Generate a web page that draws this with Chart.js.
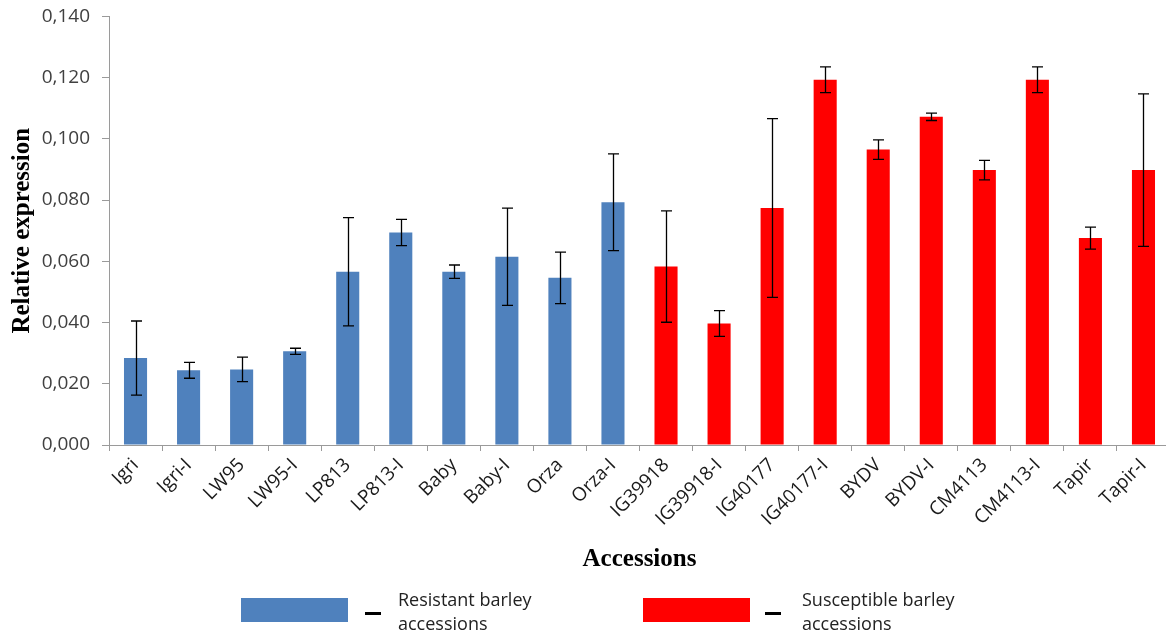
<!DOCTYPE html>
<html lang="en">
<head>
  <meta charset="UTF-8" />
  <title>Relative expression by accession</title>
  <script src="https://cdn.jsdelivr.net/npm/chart.js"></script>
  <style>
    html, body {
      margin: 0;
      padding: 0;
      background: #fff;
    }
    .wrap {
      position: relative;
      width: 1166px;
      height: 634px;
      overflow: hidden;
    }
    #exprChart {
      position: absolute;
      top: -7px;
      left: 0;
    }
    .key {
      position: absolute;
      top: 587px;
      font-family: 'Open Sans', sans-serif;
      font-size: 18px;
      line-height: 24px;
      color: #222;
    }
    .swatch {
      position: absolute;
      top: 11px;
      width: 107px;
      height: 24px;
    }
    .dash {
      position: absolute;
      top: 25px;
      width: 16px;
      height: 3px;
      background: #000;
    }
    .txt {
      position: absolute;
      top: 0;
      white-space: nowrap;
    }
  </style>
</head>
<body>
  <div class="wrap">
    <canvas id="exprChart" width="1170" height="641"></canvas>

    <div class="key" style="left:241px">
      <div class="swatch" style="left:0; background:#4f81bd"></div>
      <div class="dash" style="left:124px"></div>
      <div class="txt" style="left:157px">Resistant barley<br>accessions</div>
    </div>
    <div class="key" style="left:643px">
      <div class="swatch" style="left:0; background:#ff0000"></div>
      <div class="dash" style="left:122px"></div>
      <div class="txt" style="left:159px">Susceptible barley<br>accessions</div>
    </div>
  </div>

  <script>
    const accessions = ['Igri', 'Igri-I', 'LW95', 'LW95-I', 'LP813', 'LP813-I', 'Baby', 'Baby-I', 'Orza', 'Orza-I',
      'IG39918', 'IG39918-I', 'IG40177', 'IG40177-I', 'BYDV', 'BYDV-I', 'CM4113', 'CM4113-I', 'Tapir', 'Tapir-I'];
    const expression = [0.0284, 0.0244, 0.0247, 0.0306, 0.0566, 0.0694, 0.0566, 0.0615, 0.0546, 0.0793,
      0.0583, 0.0397, 0.0774, 0.1193, 0.0965, 0.1072, 0.0898, 0.1193, 0.0676, 0.0898];
    const stdError = [0.0121, 0.0026, 0.0040, 0.0010, 0.0177, 0.0043, 0.0022, 0.0159, 0.0084, 0.0158,
      0.0182, 0.0042, 0.0292, 0.0042, 0.0032, 0.0012, 0.0032, 0.0042, 0.0036, 0.0249];
    const group = ['R', 'R', 'R', 'R', 'R', 'R', 'R', 'R', 'R', 'R',
      'S', 'S', 'S', 'S', 'S', 'S', 'S', 'S', 'S', 'S'];

    const groupColor = { R: '#4f81bd', S: '#ff0000' };
    const axisGrey = '#9a9a9a';

    // whiskers with caps, placed with the y scale
    const errorBars = {
      id: 'errorBars',
      afterDatasetsDraw(chart) {
        const ctx = chart.ctx;
        const y = chart.scales.y;
        const meta = chart.getDatasetMeta(0);
        ctx.save();
        ctx.strokeStyle = '#000';
        ctx.lineWidth = 1.3;
        meta.data.forEach((bar, i) => {
          const cx = Math.round(bar.x) + 0.5;
          const hi = y.getPixelForValue(expression[i] + stdError[i]);
          const lo = y.getPixelForValue(expression[i] - stdError[i]);
          ctx.beginPath();
          ctx.moveTo(cx, hi);
          ctx.lineTo(cx, lo);
          ctx.moveTo(cx - 5.5, hi);
          ctx.lineTo(cx + 5.5, hi);
          ctx.moveTo(cx - 5.5, lo);
          ctx.lineTo(cx + 5.5, lo);
          ctx.stroke();
        });
        ctx.restore();
      }
    };

    const ctx = document.getElementById('exprChart').getContext('2d');
    new Chart(ctx, {
      type: 'bar',
      data: {
        labels: accessions,
        datasets: [{
          label: 'Relative expression',
          data: expression,
          backgroundColor: group.map(g => groupColor[g]),
          borderWidth: 0,
          barPercentage: 0.435,
          categoryPercentage: 1
        }]
      },
      options: {
        responsive: false,
        animation: false,
        layout: { padding: { top: 0, right: 0, bottom: 58, left: 0 } },
        plugins: {
          legend: { display: false },
          tooltip: { enabled: false }
        },
        scales: {
          x: {
            afterFit: s => { s.height = 131; },
            border: { color: axisGrey, width: 1 },
            grid: { drawOnChartArea: false, tickLength: 6, color: axisGrey },
            ticks: {
              minRotation: 45,
              maxRotation: 45,
              padding: 3,
              color: '#1a1a1a',
              font: { family: 'Open Sans', size: 19 }
            },
            title: {
              display: true,
              text: 'Accessions',
              color: '#000',
              font: { family: 'Liberation Serif', size: 25, weight: 'bold' },
              padding: { top: 0, bottom: 1 }
            }
          },
          y: {
            min: 0,
            max: 0.14,
            afterFit: s => { s.width = 109; },
            border: { color: axisGrey, width: 1 },
            grid: { drawOnChartArea: false, tickLength: 7, color: axisGrey },
            ticks: {
              stepSize: 0.02,
              padding: 12,
              color: '#404040',
              font: { family: 'Open Sans', size: 19 },
              callback: v => v.toFixed(3).replace('.', ',')
            },
            title: {
              display: true,
              text: 'Relative expression',
              color: '#000',
              font: { family: 'Liberation Serif', size: 25, weight: 'bold' },
              padding: { top: 8, bottom: 0 }
            }
          }
        }
      },
      plugins: [errorBars]
    });
  </script>
</body>
</html>
